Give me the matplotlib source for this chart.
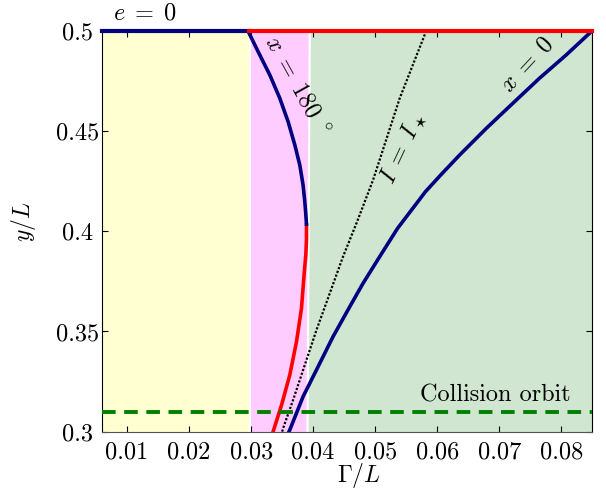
import matplotlib
matplotlib.use("Agg")
import matplotlib.pyplot as plt
from matplotlib.ticker import FixedLocator, FixedFormatter

plt.rcParams['mathtext.fontset'] = 'cm'
plt.rcParams['font.family'] = ['cmr10', 'DejaVu Serif']
plt.rcParams['axes.formatter.use_mathtext'] = True

# axis limits
x_lim = [0.006, 0.085]
y_lim = [0.3, 0.5]

# region boundaries
yellow_x = [0.006, 0.0296]
pink_left = 0.0299
bound_y = [0.3, 0.5]
bound_x = [0.0390, 0.03937]

# x = 180 deg curve (stable part, blue)
x180_blue_G = [0.02947, 0.03113, 0.03301, 0.03462, 0.03596, 0.03704, 0.03784,
               0.03837, 0.03865, 0.03878, 0.03892]
x180_blue_y = [0.5, 0.4895, 0.4779, 0.4663, 0.4546, 0.4430, 0.4330,
               0.4230, 0.4147, 0.4097, 0.4035]
# x = 180 deg curve (unstable part, red)
x180_red_G = [0.03892, 0.03892, 0.03881, 0.03853, 0.03811, 0.03731, 0.03623,
              0.03490, 0.03354]
x180_red_y = [0.4031, 0.3960, 0.3881, 0.3782, 0.3615, 0.3449, 0.3283,
              0.3133, 0.3]

# x = 0 curve
x0_G = [0.085, 0.08454, 0.08079, 0.07649, 0.07219, 0.06791, 0.06361, 0.06055,
        0.05810, 0.05360, 0.05072, 0.04804, 0.04589, 0.04320, 0.04053,
        0.03837, 0.03623, 0.0361]
x0_y = [0.5, 0.4987, 0.4879, 0.4763, 0.4638, 0.4513, 0.4380, 0.4280,
        0.4197, 0.4014, 0.3873, 0.3740, 0.3623, 0.3474, 0.3308,
        0.3175, 0.3009, 0.3]

# I = I_star line
istar_G = [0.05824, 0.05395, 0.04965, 0.04697, 0.04481, 0.04267,
           0.04053, 0.03892, 0.03676, 0.03515, 0.0350]
istar_y = [0.5, 0.4663, 0.4255, 0.4039, 0.3873, 0.3690,
           0.3507, 0.3358, 0.3158, 0.3017, 0.3]

# e = 0 line
e0_G = [0.006, 0.0296]
e0_red_G = [0.0296, 0.085]
e0_y = [0.5, 0.5]

# collision orbit
collision_y = 0.3097

xticks = [0.01, 0.02, 0.03, 0.04, 0.05, 0.06, 0.07, 0.08]
xticklabels = ['0.01', '0.02', '0.03', '0.04', '0.05', '0.06', '0.07', '0.08']
yticks = [0.3, 0.35, 0.4, 0.45, 0.5]
yticklabels = ['0.3', '0.35', '0.4', '0.45', '0.5']

fig = plt.figure(figsize=(6.06, 4.95), dpi=100)
ax = fig.add_axes([0.1688, 0.1279, 0.8086, 0.8101])

yellow = '#FFFFD2'
pink = '#FFCCFF'
green = '#D0E6D0'
gap = 0.00018

ax.fill_betweenx(bound_y, [yellow_x[0]] * 2, [yellow_x[1]] * 2, color=yellow, lw=0)
ax.fill_betweenx(bound_y, [pink_left] * 2, [b - gap for b in bound_x], color=pink, lw=0)
ax.fill_betweenx(bound_y, [b + gap for b in bound_x], [x_lim[1]] * 2, color=green, lw=0)

ax.plot(istar_G, istar_y, color='black', lw=1.6, ls=(0, (1, 0.8)), zorder=3)
ax.plot(x180_red_G, x180_red_y, color='red', lw=2.6, zorder=4)
ax.plot(x180_blue_G, x180_blue_y, color='#000080', lw=2.6, zorder=4)
ax.plot(x0_G, x0_y, color='#000080', lw=2.6, zorder=4)
ax.plot(e0_G, e0_y, color='#000080', lw=3, zorder=5, clip_on=False)
ax.plot(e0_red_G, e0_y, color='red', lw=3, zorder=5, clip_on=False)
ax.axhline(collision_y, color='green', lw=2.8, ls=(0, (3.5, 2.2)), zorder=5)

ax.set_xlim(x_lim)
ax.set_ylim(y_lim)
ax.xaxis.set_major_locator(FixedLocator(xticks))
ax.xaxis.set_major_formatter(FixedFormatter(xticklabels))
ax.yaxis.set_major_locator(FixedLocator(yticks))
ax.yaxis.set_major_formatter(FixedFormatter(yticklabels))
ax.tick_params(direction='in', top=True, right=True, length=4, width=0.8, labelsize=17.5)
ax.tick_params(axis='x', pad=7)
ax.tick_params(axis='y', pad=18)
for lab in ax.get_yticklabels():
    lab.set_horizontalalignment('center')
ax.spines['bottom'].set_color('#555555')

ax.set_xlabel(r'$\Gamma/L$', fontsize=17, va='center')
ax.xaxis.set_label_coords(0.524, -0.110)
ax.set_ylabel(r'$y/L$', fontsize=17, va='center')
ax.yaxis.set_label_coords(-0.160, 0.523)

fs = 17.5
ax.text(0.01283, 0.5084, r'$e\;=\;0$', fontsize=fs, ha='center', va='center')
ax.text(0.0373, 0.4725, r'$x\;=\;180\ ^\circ$', fontsize=fs, ha='center', va='center', rotation=-61)
ax.text(0.0545, 0.4414, r'$I\;=\;I_\star$', fontsize=fs, ha='center', va='center', rotation=65)
ax.text(0.0746, 0.4829, r'$x\;=\;0$', fontsize=fs, ha='center', va='center', rotation=47)
ax.text(0.0694, 0.3183, 'Collision orbit', fontsize=fs, ha='center', va='center')

fig.savefig('out.png', dpi=100)
